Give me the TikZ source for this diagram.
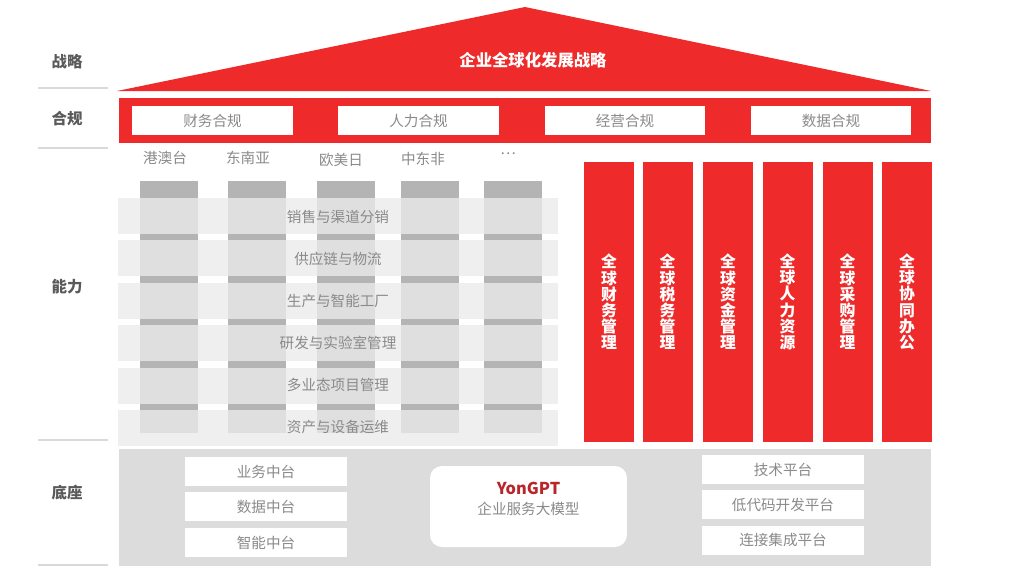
\documentclass[tikz,border=0pt]{standalone}
\usepackage{fontspec}
\setmainfont{Noto Sans CJK SC}
\usetikzlibrary{positioning}
\definecolor{roofred}{HTML}{EE2A2A}
\definecolor{labelgray}{HTML}{5A5A5A}
\definecolor{textgray}{HTML}{8A8A8A}
\definecolor{basegray}{HTML}{DCDCDC}
\definecolor{rowgray}{HTML}{EFEFEF}
\definecolor{colgray}{HTML}{DFDFDF}
\definecolor{capgray}{HTML}{B4B4B4}
\definecolor{sepgray}{HTML}{D9D9D9}
\definecolor{gptred}{HTML}{B8262B}
\tikzset{
  sidelabel/.style={font=\fontsize{8.8}{10}\selectfont\bfseries, text=labelgray},
  graytext/.style={font=\fontsize{8.3}{10}\selectfont, text=textgray},
  whitebox/.style={graytext, fill=white, inner sep=0pt, minimum width=3.22cm, minimum height=0.58cm},
  pillar/.style={fill=roofred, text=white, align=center, inner sep=0pt,
    minimum width=1.0cm, minimum height=5.6cm, font=\fontsize{9}{9.2}\selectfont\bfseries},
  sepline/.style={draw=sepgray, line width=0.6pt}
}

\begin{document}
\begin{tikzpicture}[x=0.02cm, y=-0.02cm]
    \useasboundingbox (0,0) rectangle (1024,582);

    % side labels
    \node[sidelabel] (lstrat) at (67,62) {战略};
    \node[sidelabel] (lcomp) at (67,119) {合规};
    \node[sidelabel] (lcap) at (67,287) {能力};
    \node[sidelabel] (lbase) at (67,493) {底座};
    \foreach \ly in {88,148,440,565}
        \draw[sepline] (38,\ly) -- (108,\ly);

    % roof
    \fill[roofred] (117,91) -- (525,7) -- (931,91) -- cycle;
    \node[font=\fontsize{9.3}{11}\selectfont\bfseries, text=white] (strategy) at (533,60) {企业全球化发展战略};

    % compliance bar
    \fill[roofred] (119,98) rectangle (931,143);
    \node[whitebox] (cfin) at (212.5,120.5) {财务合规};
    \node[whitebox] (chr) at (418.5,120.5) {人力合规};
    \node[whitebox] (cops) at (625,120.5) {经营合规};
    \node[whitebox] (cdata) at (831,120.5) {数据合规};

    % regions
    \node[graytext] (rhk) at (165,158) {港澳台};
    \node[graytext] (rsea) at (248,158) {东南亚};
    \node[graytext] (reu) at (341,160) {欧美日};
    \node[graytext] (rme) at (423,159) {中东非};
    \node[graytext] (rmore) at (508,154) {…};

    % region columns and capability rows
    \foreach \cx in {140,228,317,401,484}
        \fill[capgray] (\cx,181) rectangle (\cx+58,433);
    \foreach \ry in {198,240,283,325,368,410}
        \fill[rowgray] (118,\ry) rectangle (558,\ry+36);
    \foreach \cx in {140,228,317,401,484}
        \foreach \ry in {198,240,283,325,368,410}{
            \pgfmathsetmacro{\rb}{min(\ry+36,433)}
            \fill[colgray] (\cx,\ry) rectangle (\cx+58,\rb);
        }
    \node[graytext] (sales) at (338,217) {销售与渠道分销};
    \node[graytext] (supply) at (338,259) {供应链与物流};
    \node[graytext] (prod) at (338,301) {生产与智能工厂};
    \node[graytext] (rnd) at (338,343) {研发与实验室管理};
    \node[graytext] (proj) at (338,385) {多业态项目管理};
    \node[graytext] (asset) at (338,427) {资产与设备运维};

    % global pillars
    \foreach \px/\ptext [count=\i] in {
        609/{全\\球\\财\\务\\管\\理},
        667.5/{全\\球\\税\\务\\管\\理},
        728/{全\\球\\资\\金\\管\\理},
        787.5/{全\\球\\人\\力\\资\\源},
        847.5/{全\\球\\采\\购\\管\\理},
        907/{全\\球\\协\\同\\办\\公}}
        \node[pillar] (p\i) at (\px,302) {\ptext};

    % base
    \fill[basegray] (119,449) rectangle (931,566);
    \node[whitebox, minimum width=3.24cm] (bbiz) at (266,471.5) {业务中台};
    \node[whitebox, minimum width=3.24cm] (bdata) at (266,506.5) {数据中台};
    \node[whitebox, minimum width=3.24cm] (bai) at (266,542.5) {智能中台};
    \node[fill=white, rounded corners=0.24cm, minimum width=3.94cm, minimum height=1.62cm,
        inner sep=0pt] (gpt) at (528.5,506.5) {};
    \node[align=center, inner sep=0pt] (gpttext) at (528.5,498.5)
        {{\fontsize{9.3}{11}\selectfont\bfseries\color{gptred}YonGPT}\\[-0.5pt]
         {\fontsize{8.3}{10}\selectfont\color{textgray}企业服务大模型}};
    \node[whitebox, minimum width=3.24cm] (btech) at (783,469.5) {技术平台};
    \node[whitebox, minimum width=3.24cm] (blow) at (783,504.5) {低代码开发平台};
    \node[whitebox, minimum width=3.24cm] (bint) at (783,540) {连接集成平台};
\end{tikzpicture}
\end{document}
